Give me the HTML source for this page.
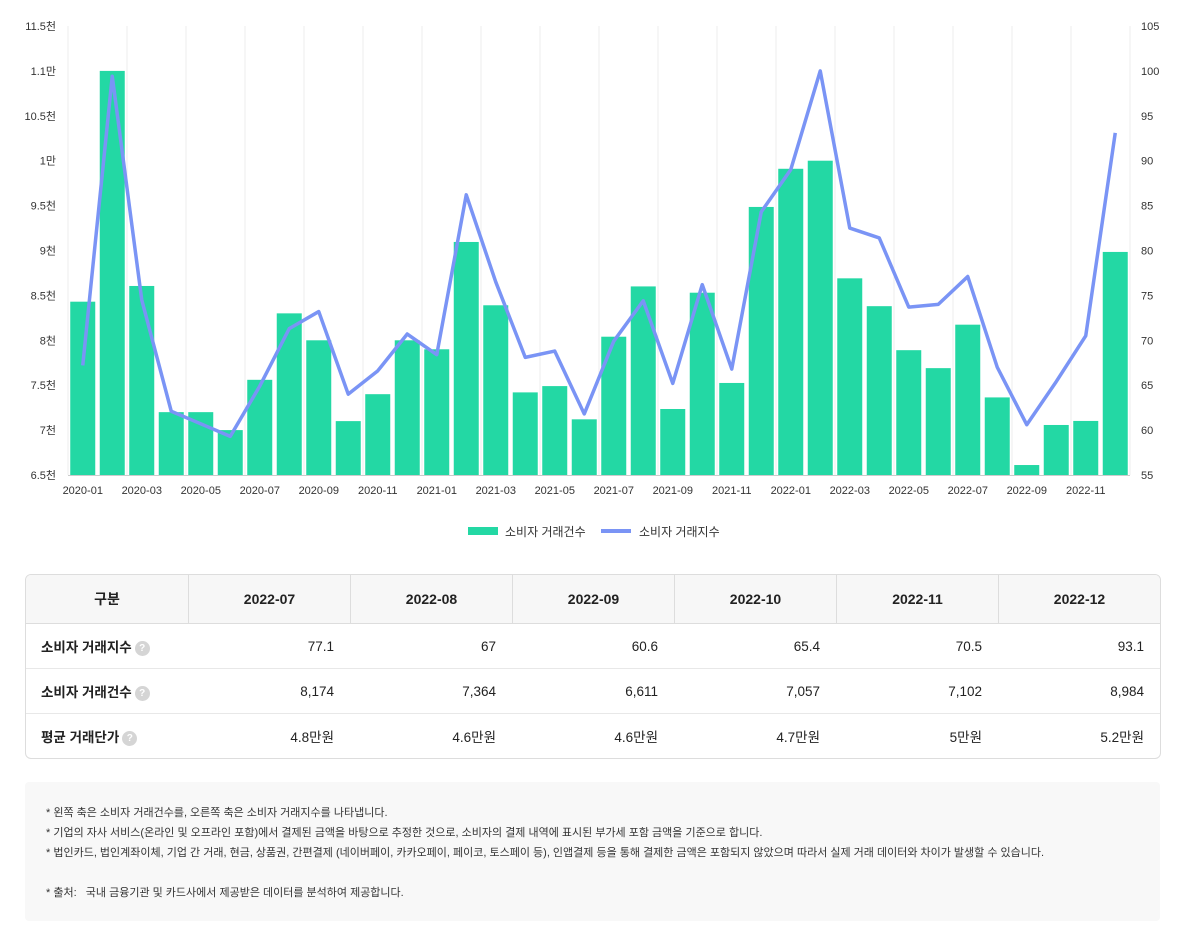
<!DOCTYPE html>
<html><head><meta charset="utf-8">
<style>
body{margin:0;background:#fff;font-family:"Liberation Sans","Noto Sans CJK KR",sans-serif;color:#222;}
#wrap{position:relative;width:1188px;height:934px;overflow:hidden;}
svg text{font-family:"Liberation Sans","Noto Sans CJK KR",sans-serif;}
table{position:absolute;left:25px;top:574px;width:1136px;table-layout:fixed;border-collapse:separate;border-spacing:0;border:1px solid #ddd;border-radius:6px;overflow:hidden;font-size:13.5px;}
th{background:#f7f7f7;height:48px;font-weight:bold;font-size:14px;border-bottom:1px solid #ddd;border-left:1px solid #ddd;padding:0;}
th:first-child,td:first-child{border-left:none;}
td{height:44px;border-top:1px solid #e8e8e8;text-align:right;padding:0 16px;}
tr:nth-child(2) td{border-top:none;}
td.h{text-align:left;font-weight:bold;padding-left:15px;}
.q{display:inline-block;width:15px;height:15px;border-radius:50%;background:#d5d5d5;color:#fff;font-size:10px;text-align:center;line-height:15px;vertical-align:1px;margin-left:3px;}
#notes{position:absolute;left:25px;top:782px;width:1135px;height:139px;background:#f8f8f8;border-radius:4px;font-size:11px;color:#333;}
#notes div{position:absolute;left:21px;white-space:nowrap;}
</style></head><body><div id="wrap">
<svg id="chart" width="1188" height="560" style="position:absolute;left:0;top:0"></svg>
<table>
<colgroup><col style="width:162px"><col><col><col><col><col><col></colgroup>
<tr><th>구분</th><th>2022-07</th><th>2022-08</th><th>2022-09</th><th>2022-10</th><th>2022-11</th><th>2022-12</th></tr>
<tr><td class="h">소비자 거래지수<span class="q">?</span></td><td>77.1</td><td>67</td><td>60.6</td><td>65.4</td><td>70.5</td><td>93.1</td></tr>
<tr><td class="h">소비자 거래건수<span class="q">?</span></td><td>8,174</td><td>7,364</td><td>6,611</td><td>7,057</td><td>7,102</td><td>8,984</td></tr>
<tr><td class="h">평균 거래단가<span class="q">?</span></td><td>4.8만원</td><td>4.6만원</td><td>4.6만원</td><td>4.7만원</td><td>5만원</td><td>5.2만원</td></tr>
</table>
<div id="notes">
<div style="top:22px">* 왼쪽 축은 소비자 거래건수를, 오른쪽 축은 소비자 거래지수를 나타냅니다.</div>
<div style="top:42px">* 기업의 자사 서비스(온라인 및 오프라인 포함)에서 결제된 금액을 바탕으로 추정한 것으로, 소비자의 결제 내역에 표시된 부가세 포함 금액을 기준으로 합니다.</div>
<div style="top:62px">* 법인카드, 법인계좌이체, 기업 간 거래, 현금, 상품권, 간편결제 (네이버페이, 카카오페이, 페이코, 토스페이 등), 인앱결제 등을 통해 결제한 금액은 포함되지 않았으며 따라서 실제 거래 데이터와 차이가 발생할 수 있습니다.</div>
<div style="top:102px">* 출처:&nbsp;&nbsp;&nbsp;국내 금융기관 및 카드사에서 제공받은 데이터를 분석하여 제공합니다.</div>
</div>
</div>
<script>
const months=[];for(let y=2020;y<=2022;y++)for(let m=1;m<=12;m++)months.push(y+'-'+String(m).padStart(2,'0'));
const counts=[8430,11000,8605,7200,7200,7000,7560,8300,8000,7100,7400,8000,7900,9095,8390,7420,7490,7120,8040,8600,7235,8530,7525,9485,9910,10000,8690,8380,7890,7690,8174,7364,6611,7057,7102,8984];
const indexVals=[67.2,99.4,74.5,62.1,60.7,59.3,64.9,71.3,73.2,64.0,66.6,70.7,68.4,86.2,76.5,68.1,68.8,61.8,69.9,74.4,65.2,76.2,66.8,84.3,89.0,100,82.5,81.4,73.7,74.0,77.1,67,60.6,65.4,70.5,93.1];
const leftTicks=['6.5천','7천','7.5천','8천','8.5천','9천','9.5천','1만','10.5천','1.1만','11.5천'];
const rightTicks=['55','60','65','70','75','80','85','90','95','100','105'];
const svg=document.getElementById('chart');const NS='http://www.w3.org/2000/svg';
function mk(t,a){const e=document.createElementNS(NS,t);for(const k in a)e.setAttribute(k,a[k]);svg.appendChild(e);return e;}
const X0=68,X1=1130,Y0=475,Y1=26,n=months.length,step=(X1-X0)/n;
const yL=v=>Y0-(v-6500)/5000*(Y0-Y1);
const yR=v=>Y0-(v-55)/50*(Y0-Y1);
const xc=i=>X0+step*(i+0.5);
for(let i=0;i<=n;i+=2){const g=mk('line',{x1:X0+i*step,x2:X0+i*step,y1:Y1,y2:Y0,stroke:'#eee'});}
leftTicks.forEach((t,i)=>{const y=Y0-i*(Y0-Y1)/10;const e=mk('text',{x:56,y:y+4,'text-anchor':'end','font-size':11,fill:'#333'});e.textContent=t;});
rightTicks.forEach((t,i)=>{const y=Y0-i*(Y0-Y1)/10;const e=mk('text',{x:1141,y:y+4,'font-size':11,fill:'#333'});e.textContent=t;});
counts.forEach((v,i)=>{const b=mk('rect',{x:xc(i)-12.5,y:yL(v),width:25,height:Y0-yL(v),fill:'#23d8a4'});});
const bl=mk('line',{x1:X0,x2:X1,y1:Y0+0.5,y2:Y0+0.5,stroke:'#ccc'});
const p=mk('polyline',{points:indexVals.map((v,i)=>xc(i)+','+yR(v)).join(' '),fill:'none',stroke:'#7a94f5','stroke-width':3.5,'stroke-linejoin':'round'});

months.forEach((m,i)=>{if(i%2)return;const e=mk('text',{x:xc(i),y:494,'text-anchor':'middle','font-size':11,fill:'#333'});e.textContent=m;});
const l1=mk('rect',{x:468,y:527,width:30,height:8,fill:'#23d8a4'});
const t1=mk('text',{x:505,y:536,'font-size':12,fill:'#333'});t1.textContent='소비자 거래건수';
const l2=mk('line',{x1:601,x2:631,y1:531,y2:531,stroke:'#7a94f5','stroke-width':4});
const t2=mk('text',{x:639,y:536,'font-size':12,fill:'#333'});t2.textContent='소비자 거래지수';
</script></body></html>
